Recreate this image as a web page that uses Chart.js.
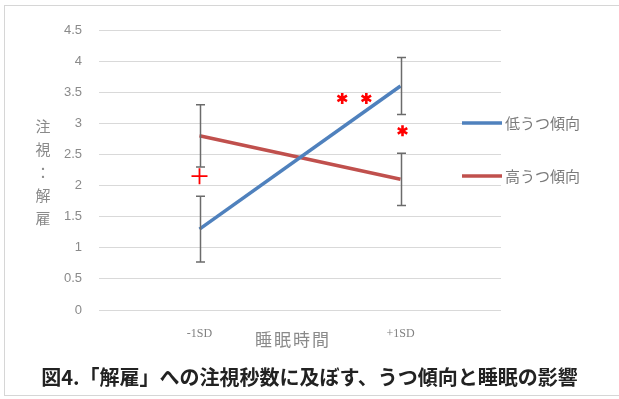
<!DOCTYPE html>
<html>
<head>
<meta charset="utf-8">
<script src="https://cdn.jsdelivr.net/npm/chart.js@4/dist/chart.umd.min.js"></script>
<style>
  html, body { margin: 0; padding: 0; background: #fff; overflow: hidden; }
  #frame {
    position: absolute; left: 4px; top: 5px; width: 640px; height: 391px;
    border: 1px solid #d6d6d6; box-sizing: border-box;
  }
  #wrap { position: absolute; left: 0; top: 0; width: 619px; height: 399px; }
  #caption {
    position: absolute; left: 0; top: 364px; width: 619px; text-align: center;
    font: bold 20px "Noto Sans CJK JP", sans-serif; line-height: 26px; color: #222;
  }
</style>
</head>
<body>
<div id="frame"></div>
<div id="wrap"><canvas id="c" width="619" height="399"></canvas></div>
<div id="caption">図4.「解雇」への注視秒数に及ぼす、うつ傾向と睡眠の影響</div>
<script>
// Sleep-time levels on the x axis
const categories = ['-1SD', '+1SD'];

// Mean fixation time on the "解雇" word, per depression group
const lowDepression = [1.3, 3.6];
const lowDepressionErr = [0.53, 0.46];
const highDepression = [2.8, 2.1];
const highDepressionErr = [0.5, 0.42];

const seriesNames = ['低うつ傾向', '高うつ傾向'];

// Y axis range and tick labels
const yMin = 0, yMax = 4.5, yStep = 0.5;
const yTickLabels = ['0', '0.5', '1', '1.5', '2', '2.5', '3', '3.5', '4', '4.5'];

// Significance markers: category position (fractional index) and value
const markerKinds = ['+', '*', '*', '*'];
const markerAt = [0, 0.71, 0.83, 1.01];
const markerValue = [2.15, 3.4, 3.4, 2.88];

const yTitle = ['注', '視', '：', '解', '雇'];
const xTitle = '睡眠時間';

const BLUE = '#4F81BD';
const RED = '#C0504D';

const extrasPlugin = {
  id: 'extras',
  afterDatasetsDraw(chart) {
    const ctx = chart.ctx;
    const ys = chart.scales.y;
    const xs = chart.scales.x;
    const area = chart.chartArea;

    // error bars
    ctx.save();
    ctx.strokeStyle = '#6b6b6b';
    ctx.lineWidth = 1.5;
    chart.data.datasets.forEach((ds, i) => {
      const meta = chart.getDatasetMeta(i);
      meta.data.forEach((pt, j) => {
        const v = ds.data[j], e = ds.errors[j];
        const top = ys.getPixelForValue(v + e);
        const bot = ys.getPixelForValue(v - e);
        const x = Math.round(pt.x) + 0.5;
        ctx.beginPath();
        ctx.moveTo(x, top); ctx.lineTo(x, bot);
        ctx.moveTo(x - 4.5, top); ctx.lineTo(x + 4.5, top);
        ctx.moveTo(x - 4.5, bot); ctx.lineTo(x + 4.5, bot);
        ctx.stroke();
      });
    });
    ctx.restore();

    // significance markers
    ctx.save();
    ctx.strokeStyle = '#FF0000';
    markerKinds.forEach((k, i) => {
      const x = xs.getPixelForValue(markerAt[i]);
      const y = ys.getPixelForValue(markerValue[i]);
      ctx.beginPath();
      if (k === '+') {
        ctx.lineWidth = 1.8;
        ctx.moveTo(x - 8, y); ctx.lineTo(x + 8, y);
        ctx.moveTo(x, y - 8); ctx.lineTo(x, y + 8);
      } else {
        ctx.lineWidth = 2.6;
        const r = 5.5;
        for (let a = 0; a < 3; a++) {
          const ang = Math.PI / 2 + a * Math.PI / 3;
          ctx.moveTo(x - r * Math.cos(ang), y - r * Math.sin(ang));
          ctx.lineTo(x + r * Math.cos(ang), y + r * Math.sin(ang));
        }
      }
      ctx.stroke();
    });
    ctx.restore();

    // legend
    ctx.save();
    const legendY = [123, 176];
    chart.data.datasets.forEach((ds, i) => {
      ctx.strokeStyle = ds.borderColor;
      ctx.lineWidth = 3.5;
      ctx.beginPath();
      ctx.moveTo(area.right - 39, legendY[i]);
      ctx.lineTo(area.right + 1, legendY[i]);
      ctx.stroke();
      ctx.fillStyle = '#7a7a7a';
      ctx.font = '15px "Noto Sans CJK JP"';
      ctx.textBaseline = 'middle';
      ctx.textAlign = 'left';
      ctx.fillText(ds.label, area.right + 4, legendY[i]);
    });

    // axis titles
    ctx.fillStyle = '#8a8a8a';
    ctx.font = '15px "Noto Sans CJK JP"';
    ctx.textAlign = 'center';
    ctx.textBaseline = 'middle';
    yTitle.forEach((ch, i) => ctx.fillText(ch, 43, 126 + i * 23));
    ctx.font = '17px "Noto Sans CJK JP"';
    const chars = Array.from(xTitle);
    const step = 19;
    const cx = (area.left + area.right) / 2 - 8;
    chars.forEach((ch, i) => {
      ctx.fillText(ch, cx + (i - (chars.length - 1) / 2) * step, 340);
    });
    ctx.restore();
  }
};

new Chart(document.getElementById('c'), {
  type: 'line',
  data: {
    labels: categories,
    datasets: [
      { label: seriesNames[0], data: lowDepression, errors: lowDepressionErr,
        borderColor: BLUE, backgroundColor: BLUE, borderWidth: 3.5,
        pointRadius: 0, tension: 0, fill: false },
      { label: seriesNames[1], data: highDepression, errors: highDepressionErr,
        borderColor: RED, backgroundColor: RED, borderWidth: 3.5,
        pointRadius: 0, tension: 0, fill: false }
    ]
  },
  options: {
    responsive: false,
    animation: false,
    devicePixelRatio: 1,
    layout: { padding: { top: 30, right: 118, left: 0, bottom: 0 } },
    plugins: { legend: { display: false }, tooltip: { enabled: false }, title: { display: false } },
    scales: {
      x: {
        offset: true,
        grid: { display: false, drawTicks: false },
        border: { display: false },
        ticks: { padding: 17, color: '#808080', font: { family: 'Liberation Serif', size: 12 } },
        afterFit(scale) { scale.height = 89; }
      },
      y: {
        min: yMin, max: yMax,
        grid: { color: '#d9d9d9', lineWidth: 1, drawTicks: false },
        border: { display: false },
        ticks: {
          stepSize: yStep, padding: 17, color: '#8a8a8a',
          font: { family: 'Liberation Sans', size: 13 },
          callback: (value, index) => yTickLabels[index]
        },
        afterFit(scale) { scale.width = 99; }
      }
    }
  },
  plugins: [extrasPlugin]
});
</script>
</body>
</html>
